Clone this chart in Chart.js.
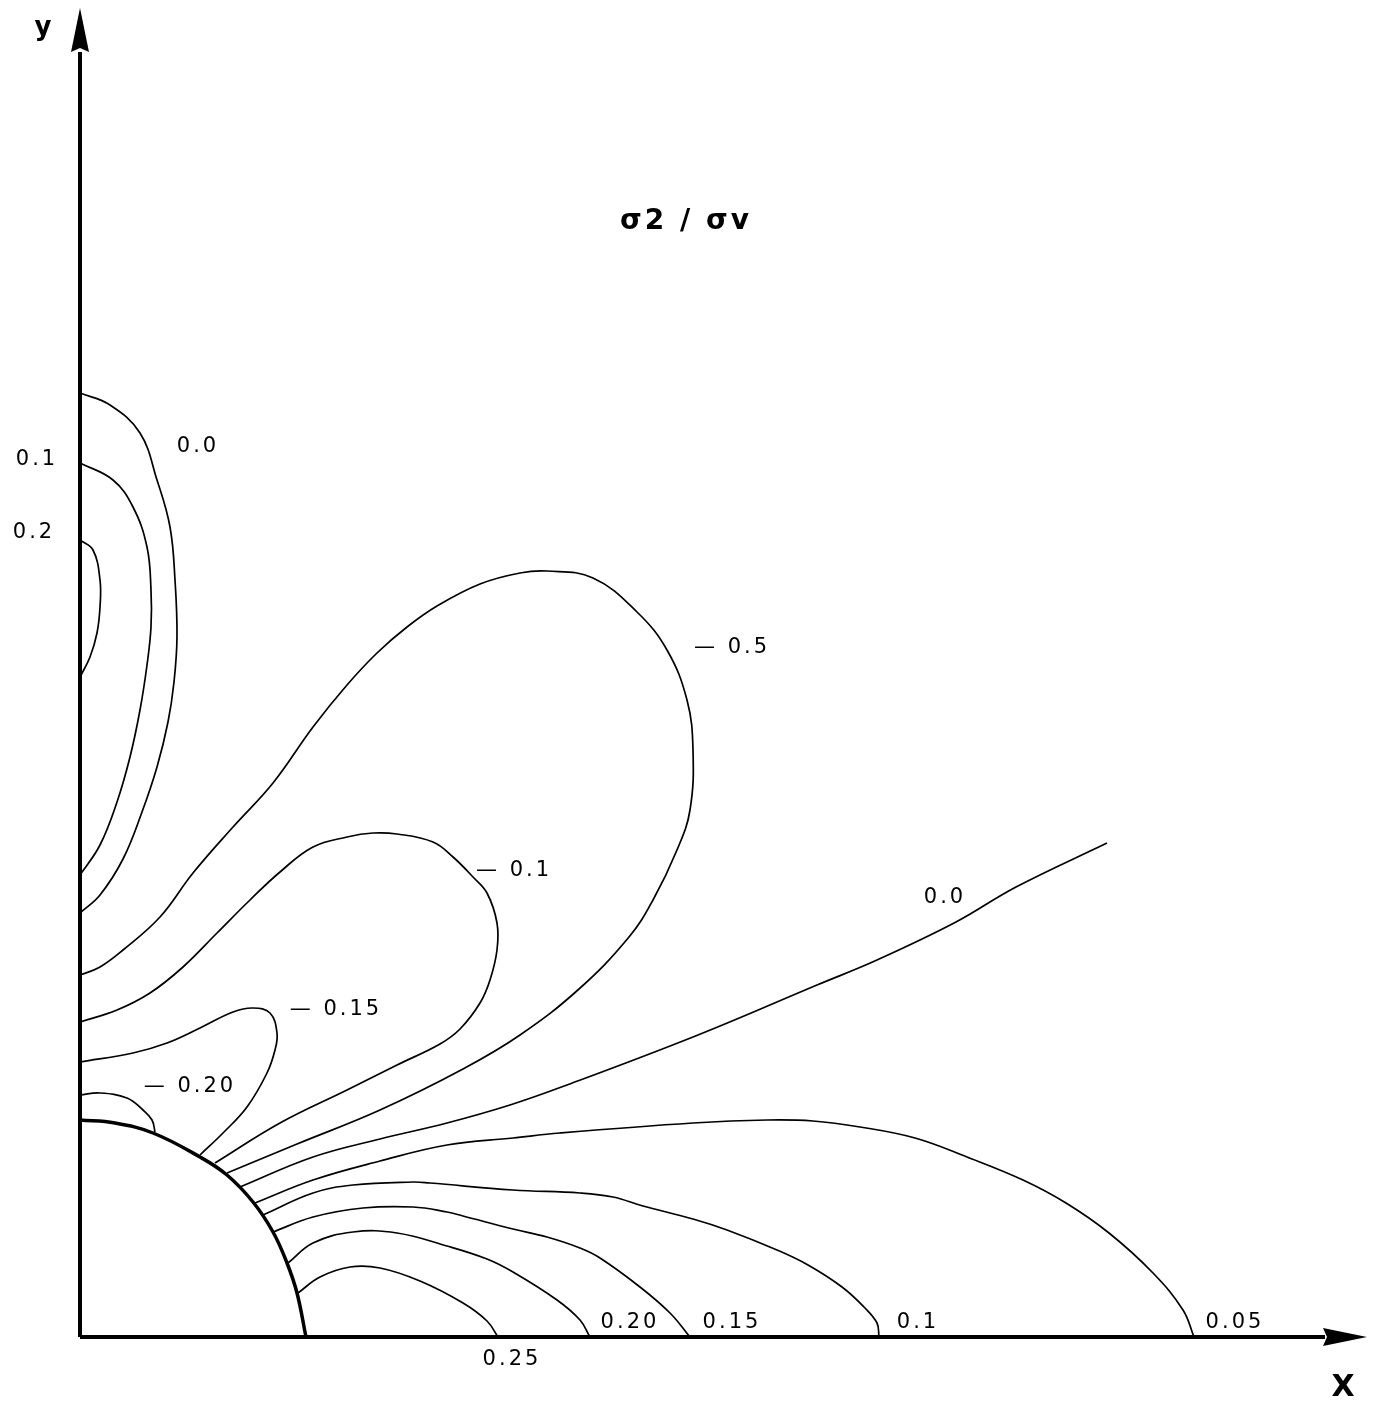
<!DOCTYPE html>
<html>
<head>
<meta charset="utf-8">
<script src="https://cdn.jsdelivr.net/npm/chart.js@4/dist/chart.umd.min.js"></script>
<style>
  html, body { margin: 0; padding: 0; background: #fff; }
  canvas { display: block; }
</style>
</head>
<body>
<canvas id="contourChart" width="1373" height="1403"></canvas>
<script>
// Contour traces of sigma2 / sigma_v.
// Units: origin at the axes corner, x to the right, y upward.

const xAxisLine = [[0, 0], [1245, 0]];
const yAxisLine = [[0, 0], [0, 1285]];

// quarter "hole" boundary (thick)
const hole = [[0, 217], [35, 214], [73, 204], [120, 180], [147, 162], [173, 135], [193, 105], [207, 74], [217, 44], [226, 0]];

// lobes along the y axis
const c00Upper = [[0, 944], [30, 932], [60, 904], [77, 857], [90, 810], [95, 757], [97, 700], [94, 655], [88, 615], [77, 570], [62, 525], [43, 478], [20, 442], [0, 424]];
const c01Upper = [[0, 874], [33, 857], [53, 830], [67, 790], [71, 747], [71, 710], [67, 672], [60, 627], [50, 580], [37, 535], [20, 492], [0, 462]];
const c02Upper = [[0, 797], [13, 787], [20, 757], [20, 730], [17, 704], [10, 680], [0, 660]];

// negative contours, from the y axis round to the hole
const cNeg05 = [[0, 362], [20, 370], [43, 387], [80, 420], [113, 464], [153, 510], [193, 554], [233, 610], [267, 652], [297, 684], [327, 710], [357, 731], [400, 753], [440, 764], [467, 766], [513, 759], [557, 725], [587, 687], [607, 637], [613, 587], [610, 527], [597, 487], [573, 437], [549, 400], [499, 348], [440, 302], [383, 268], [300, 227], [217, 193], [147, 164]];
const cNeg01 = [[0, 315], [37, 327], [70, 344], [103, 370], [137, 404], [170, 437], [200, 465], [233, 490], [267, 500], [293, 504], [317, 503], [353, 495], [373, 480], [393, 460], [407, 444], [417, 414], [417, 387], [410, 357], [400, 334], [380, 308], [360, 293], [317, 272], [267, 247], [200, 214], [135, 174]];
const cNeg015 = [[0, 275], [53, 284], [87, 294], [120, 309], [153, 325], [173, 329], [190, 324], [197, 304], [195, 287], [187, 264], [167, 230], [143, 204], [120, 182]];
const cNeg020 = [[0, 242], [20, 244], [47, 239], [63, 227], [72, 217], [75, 205]];

// contours leaving the hole to the right
const c00Ray = [[160, 150], [233, 180], [300, 198], [367, 214], [430, 232], [487, 252], [618, 302], [737, 352], [797, 377], [876, 415], [936, 450], [1027, 494]];
const c005 = [[175, 134], [233, 157], [300, 176], [367, 192], [433, 199], [480, 204], [613, 214], [687, 217], [733, 216], [780, 210], [835, 199], [887, 180], [943, 157], [986, 134], [1029, 104], [1073, 64], [1103, 27], [1114, 0]];
const c010 = [[183, 122], [233, 144], [273, 152], [333, 155], [350, 154], [433, 147], [500, 144], [533, 140], [563, 131], [613, 118], [647, 107], [697, 87], [728, 72], [762, 50], [784, 30], [797, 14], [799, 0]];
const c015 = [[193, 105], [233, 120], [283, 129], [333, 130], [367, 125], [383, 121], [433, 108], [467, 100], [500, 89], [520, 79], [560, 50], [590, 24], [610, 0]];
const c020 = [[208, 74], [233, 94], [273, 105], [317, 104], [367, 91], [407, 78], [433, 65], [477, 37], [500, 17], [510, 0]];
const c025 = [[218, 44], [240, 60], [270, 70], [300, 69], [340, 56], [383, 34], [407, 16], [418, 0]];

const contours = [c00Upper, c01Upper, c02Upper, cNeg05, cNeg01, cNeg015, cNeg020, c00Ray, c005, c010, c015, c020, c025];

// contour level labels: text and anchor (data units)
const levelLabels = [
    { text: '0.0', x: 118, y: 890 },
    { text: '0.1', x: -43, y: 877 },
    { text: '0.2', x: -46, y: 804 },
    { text: '\u2014 0.5', x: 652, y: 689 },
    { text: '\u2014 0.1', x: 434, y: 466 },
    { text: '\u2014 0.15', x: 256, y: 327 },
    { text: '\u2014 0.20', x: 110, y: 250 },
    { text: '0.0', x: 865, y: 439 },
    { text: '0.20', x: 550, y: 14 },
    { text: '0.15', x: 652, y: 14 },
    { text: '0.1', x: 838, y: 14 },
    { text: '0.05', x: 1155, y: 14 },
    { text: '0.25', x: 432, y: -23 }
];

function toPoints(arr) {
    return arr.map(p => ({ x: p[0], y: p[1] }));
}

function lineSet(arr, width, tension) {
    return {
        data: toPoints(arr),
        showLine: true,
        borderColor: '#000',
        borderWidth: width,
        pointRadius: 0,
        tension: tension,
        fill: false,
        clip: false
    };
}

const datasets = [
    lineSet(xAxisLine, 4, 0),
    lineSet(yAxisLine, 4, 0),
    lineSet(hole, 3.5, 0.4)
];
contours.forEach(c => datasets.push(lineSet(c, 1.7, 0.4)));

// arrow heads, axis letters, title and level labels
const decorations = {
    id: 'decorations',
    afterDatasetsDraw(chart) {
        const ctx = chart.ctx;
        const sx = chart.scales.x;
        const sy = chart.scales.y;
        const ox = sx.getPixelForValue(0);
        const oy = sy.getPixelForValue(0);

        ctx.save();
        ctx.fillStyle = '#000';

        // y arrow
        const yTip = sy.getPixelForValue(1329);
        const yBase = sy.getPixelForValue(1285);
        ctx.beginPath();
        ctx.moveTo(ox, yTip);
        ctx.lineTo(ox + 9, yBase);
        ctx.lineTo(ox, yBase - 4);
        ctx.lineTo(ox - 9, yBase);
        ctx.closePath();
        ctx.fill();

        // x arrow
        const xTip = sx.getPixelForValue(1287);
        const xBase = sx.getPixelForValue(1243);
        ctx.beginPath();
        ctx.moveTo(xTip, oy);
        ctx.lineTo(xBase, oy - 9);
        ctx.lineTo(xBase + 4, oy);
        ctx.lineTo(xBase, oy + 9);
        ctx.closePath();
        ctx.fill();

        ctx.textAlign = 'center';
        ctx.textBaseline = 'middle';

        ctx.font = 'bold 26px "DejaVu Sans", sans-serif';
        ctx.fillText('y', sx.getPixelForValue(-37), sy.getPixelForValue(1309));
        ctx.font = 'bold 30px "DejaVu Sans", sans-serif';
        ctx.fillText('X', sx.getPixelForValue(1263), sy.getPixelForValue(-51));

        ctx.font = 'bold 28px "DejaVu Sans", sans-serif';
        ctx.letterSpacing = '3px';
        ctx.fillText('\u03c32 / \u03c3v', sx.getPixelForValue(606), sy.getPixelForValue(1115));

        ctx.font = '21px "DejaVu Sans", sans-serif';
        ctx.letterSpacing = '3px';
        levelLabels.forEach(l => {
            ctx.fillText(l.text, sx.getPixelForValue(l.x), sy.getPixelForValue(l.y));
        });
        ctx.restore();
    }
};

new Chart(document.getElementById('contourChart'), {
    type: 'scatter',
    data: { datasets: datasets },
    options: {
        responsive: false,
        animation: false,
        devicePixelRatio: 1,
        layout: { padding: { left: 80, right: 0, top: 0, bottom: 66 } },
        plugins: {
            legend: { display: false },
            tooltip: { enabled: false }
        },
        scales: {
            x: { type: 'linear', min: 0, max: 1293, display: false },
            y: { type: 'linear', min: 0, max: 1337, display: false }
        }
    },
    plugins: [decorations]
});
</script>
</body>
</html>
